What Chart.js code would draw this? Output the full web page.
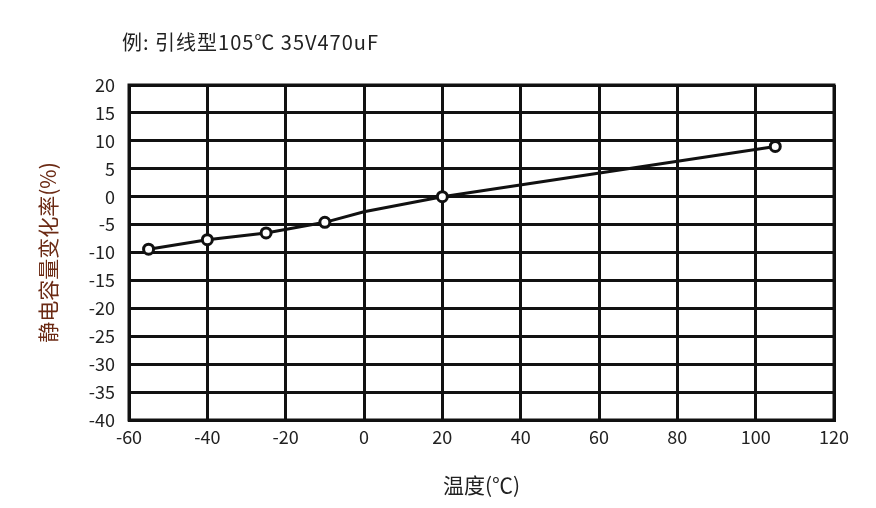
<!DOCTYPE html>
<html>
<head>
<meta charset="utf-8">
<script src="https://cdn.jsdelivr.net/npm/chart.js@4"></script>
<style>
  body { margin: 0; background: #fff; }
  #wrap { position: relative; width: 876px; height: 508px; }
  #titulo { position: absolute; left: 122px; top: 27px; font: 20px "Noto Sans CJK SC", sans-serif; color: #222; letter-spacing: 1px; }
</style>
</head>
<body>
<div id="wrap">
  <div id="titulo">例: 引线型105℃ 35V470uF</div>
  <canvas id="grafico" width="876" height="508"></canvas>
</div>
<script>
// dados
const temperaturas = [-55, -40, -25, -10, 0, 20, 105];
const variacao = [-9.4, -7.7, -6.5, -4.6, -2.7, 0, 9.0];
const raioPontos = [5, 5, 5, 5, 0, 5, 5];

const fonte = { family: "'Noto Sans CJK SC', sans-serif", size: 18 };
const fonteTitulo = { family: "'Noto Sans CJK SC', sans-serif", size: 21, lineHeight: 1.2 };

new Chart(document.getElementById('grafico'), {
  type: 'line',
  data: {
    datasets: [{
      data: temperaturas.map((t, i) => ({ x: t, y: variacao[i] })),
      borderColor: '#111',
      borderWidth: 3,
      pointRadius: raioPontos,
      pointBackgroundColor: '#fff',
      pointBorderColor: '#111',
      pointBorderWidth: 3,
      tension: 0
    }]
  },
  options: {
    responsive: false,
    animation: false,
    layout: { padding: { left: 0, top: 85, right: 42, bottom: 0 } },
    plugins: { legend: { display: false }, tooltip: { enabled: false } },
    scales: {
      x: {
        type: 'linear', min: -60, max: 120,
        ticks: { stepSize: 20, color: '#222', font: fonte, padding: 6 },
        grid: { color: '#111', lineWidth: 3, drawTicks: false },
        border: { color: '#111', width: 3 },
        title: { display: true, text: '温度(℃)', color: '#222', font: fonteTitulo, padding: { top: 10, bottom: 10 } },
        afterFit: s => { s.height = 88; }
      },
      y: {
        min: -40, max: 20,
        ticks: { stepSize: 5, color: '#222', font: fonte, padding: 14 },
        grid: { color: '#111', lineWidth: 3, drawTicks: false },
        border: { color: '#111', width: 3 },
        title: { display: true, text: '静电容量变化率(%)', color: '#6b2a14', font: fonteTitulo, padding: { top: 35, bottom: 12 } },
        afterFit: s => { s.width = 129; }
      }
    }
  },
  plugins: [{
    id: 'moldura',
    afterDraw(c) {
      const a = c.chartArea, ctx = c.ctx;
      ctx.save();
      ctx.strokeStyle = '#111';
      ctx.lineWidth = 3;
      ctx.strokeRect(a.left, a.top, a.right - a.left, a.bottom - a.top);
      ctx.restore();
    }
  }]
});
</script>
</body>
</html>
